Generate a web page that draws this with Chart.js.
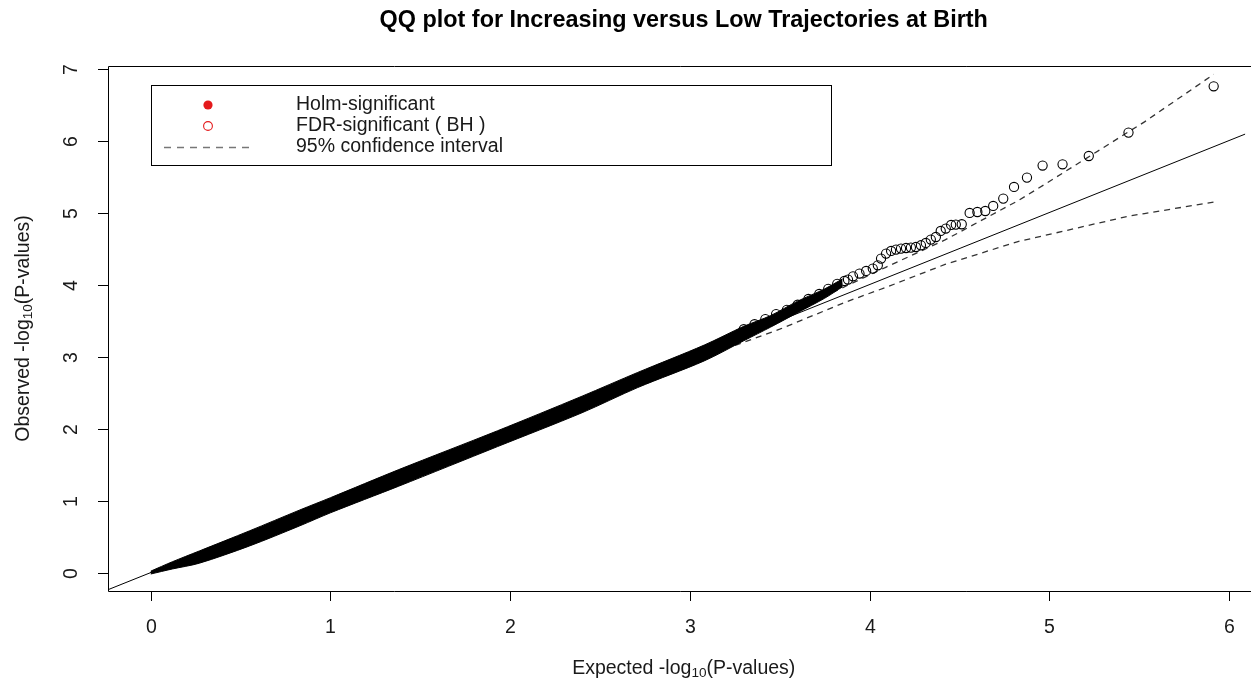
<!DOCTYPE html>
<html>
<head>
<meta charset="utf-8">
<script src="https://cdn.jsdelivr.net/npm/chart.js@4/dist/chart.umd.min.js"></script>
<style>
html,body{margin:0;padding:0;background:#fff;}
#wrap{width:1251px;height:686px;position:relative;}
</style>
</head>
<body>
<div id="wrap"><canvas id="c" width="1251" height="686"></canvas></div>
<script>
// ---- data ----
const titleText = "QQ plot for Increasing versus Low Trajectories at Birth";
const xTicks = [0, 1, 2, 3, 4, 5, 6];
const yTicks = [0, 1, 2, 3, 4, 5, 6, 7];

// dense part of the point cloud (upper / lower edge of the black band)
const bandExpected = [0, 0.12, 0.27, 0.55, 0.83, 1.0, 1.38, 1.93, 2.4, 2.71, 3.08, 3.3, 3.45, 3.6, 3.75, 3.85];
const bandUpper    = [0.02, 0.15, 0.30, 0.58, 0.87, 1.04, 1.43, 1.97, 2.45, 2.78, 3.16, 3.42, 3.57, 3.77, 3.94, 4.08];
const bandLower    = [-0.02, 0.05, 0.13, 0.37, 0.65, 0.83, 1.20, 1.75, 2.22, 2.57, 2.94, 3.22, 3.41, 3.61, 3.81, 3.97];

// individually visible points (upper tail)
const tailExpected = [3.30, 3.36, 3.42, 3.48, 3.54, 3.60, 3.66, 3.72, 3.77, 3.82, 3.86,
  3.88, 3.908, 3.944, 3.981, 4.018, 4.046, 4.064, 4.092, 4.12, 4.147, 4.175, 4.203, 4.23,
  4.258, 4.286, 4.313, 4.341, 4.369, 4.396, 4.424, 4.454, 4.48, 4.513, 4.557, 4.60, 4.644,
  4.688, 4.744, 4.804, 4.876, 4.963, 5.074, 5.22, 5.441, 5.915];
const tailObserved = [3.38, 3.45, 3.52, 3.59, 3.65, 3.72, 3.80, 3.87, 3.94, 4.01, 4.05,
  4.07, 4.115, 4.153, 4.189, 4.222, 4.268, 4.361, 4.43, 4.467, 4.486, 4.50, 4.508, 4.514,
  4.522, 4.546, 4.578, 4.625, 4.661, 4.745, 4.778, 4.828, 4.833, 4.838, 4.995, 5.008, 5.022,
  5.092, 5.194, 5.356, 5.486, 5.653, 5.671, 5.786, 6.111, 6.754];

// 95% confidence interval
const ciExpected = [0, 1, 2, 2.5, 3, 3.5, 3.87, 4.09, 4.42, 4.83, 4.98, 5.44, 5.53, 5.915];
const ciUpper    = [0, 1.005, 2.01, 2.51, 3.03, 3.55, 3.98, 4.24, 4.62, 5.17, 5.40, 6.12, 6.26, 6.92];
const ciLower    = [0, 0.99, 1.98, 2.46, 2.93, 3.38, 3.76, 3.96, 4.28, 4.60, 4.685, 4.95, 4.986, 5.147];

// significant points (none in this plot)
const holmExpected = [], holmObserved = [];
const fdrExpected = [], fdrObserved = [];

const legendLabels = ["Holm-significant", "FDR-significant ( BH )", "95% confidence interval"];

// axis limits
const xMin = -0.238, xMax = 6.091;
const yMin = -0.256, yMax = 7.036;

// ---- build ----
const pts = (xs, ys) => xs.map((x, i) => ({x: x, y: ys[i]}));
const FONT = "'Liberation Sans', Arial, Helvetica, sans-serif";
const TXT = "#1a1a1a";

const datasets = [
  {label: "bandLower", data: pts(bandExpected, bandLower), showLine: true, pointRadius: 0,
   borderColor: "#000", borderWidth: 1, fill: false, order: 2, tension: 0.3},
  {label: "bandUpper", data: pts(bandExpected, bandUpper), showLine: true, pointRadius: 0,
   borderColor: "#000", borderWidth: 1, fill: "-1", backgroundColor: "#000", order: 2, tension: 0.3},
  {label: "observed", data: pts(tailExpected, tailObserved), showLine: false, pointRadius: 4.6,
   pointStyle: "circle", borderColor: "#000", backgroundColor: "rgba(0,0,0,0)", borderWidth: 1.1, order: 1},
  {label: "expected", data: [{x: xMin, y: xMin}, {x: xMax, y: xMax}], showLine: true, pointRadius: 0,
   borderColor: "#000", borderWidth: 1, order: 0},
  {label: "ciUpper", data: pts(ciExpected, ciUpper), showLine: true, pointRadius: 0,
   borderColor: "#333", borderWidth: 1.3, borderDash: [6, 5], order: 3},
  {label: "ciLower", data: pts(ciExpected, ciLower), showLine: true, pointRadius: 0,
   borderColor: "#333", borderWidth: 1.3, borderDash: [6, 5], order: 3},
  {label: legendLabels[0], data: pts(holmExpected, holmObserved), showLine: false, pointRadius: 4.6,
   borderColor: "#e41a1c", backgroundColor: "#e41a1c", order: 0},
  {label: legendLabels[1], data: pts(fdrExpected, fdrObserved), showLine: false, pointRadius: 4.6,
   borderColor: "#e41a1c", backgroundColor: "rgba(0,0,0,0)", order: 0}
];

function drawParts(ctx, parts, cx, cy) {
  let total = 0;
  parts.forEach(p => { ctx.font = p.size + "px " + FONT; p.w = ctx.measureText(p.t).width; total += p.w; });
  let x = cx - total / 2;
  ctx.textAlign = "left";
  ctx.textBaseline = "alphabetic";
  parts.forEach(p => { ctx.font = p.size + "px " + FONT; ctx.fillText(p.t, x, cy + p.dy); x += p.w; });
}

const rStyle = {
  id: "rStyle",
  afterDraw(chart) {
    const ctx = chart.ctx, a = chart.chartArea;
    const xs = chart.scales.x, ys = chart.scales.y;
    const base = 19.5;
    ctx.save();
    // box
    ctx.strokeStyle = "#000"; ctx.lineWidth = 1;
    ctx.beginPath();
    ctx.moveTo(a.right + 30, Math.round(a.top) + 0.5);
    ctx.lineTo(Math.round(a.left) + 0.5, Math.round(a.top) + 0.5);
    ctx.lineTo(Math.round(a.left) + 0.5, Math.round(a.bottom) + 0.5);
    ctx.lineTo(a.right + 30, Math.round(a.bottom) + 0.5);
    ctx.stroke();
    // x ticks
    ctx.fillStyle = TXT;
    ctx.font = base + "px " + FONT;
    ctx.textAlign = "center"; ctx.textBaseline = "middle";
    xTicks.forEach(v => {
      const px = Math.round(xs.getPixelForValue(v)) + 0.5;
      ctx.beginPath(); ctx.moveTo(px, a.bottom); ctx.lineTo(px, a.bottom + 10); ctx.stroke();
      ctx.fillText(String(v), px, 628);
    });
    // y ticks
    yTicks.forEach(v => {
      const py = Math.round(ys.getPixelForValue(v)) + 0.5;
      ctx.beginPath(); ctx.moveTo(a.left, py); ctx.lineTo(a.left - 10, py); ctx.stroke();
      ctx.save(); ctx.translate(72, py); ctx.rotate(-Math.PI / 2);
      ctx.textAlign = "center"; ctx.textBaseline = "middle";
      ctx.fillText(String(v), 0, 0);
      ctx.restore();
    });
    // title
    const cxPlot = (xs.getPixelForValue(xMin) + xs.getPixelForValue(6.17)) / 2;
    ctx.font = "bold 23.4px " + FONT;
    ctx.textAlign = "center"; ctx.textBaseline = "middle";
    ctx.fillStyle = "#000";
    ctx.fillText(titleText, cxPlot, 21);
    // axis titles
    ctx.fillStyle = TXT;
    const lab = w => [{t: w + " -log", size: base, dy: 0}, {t: "10", size: 13.6, dy: 3}, {t: "(P-values)", size: base, dy: 0}];
    drawParts(ctx, lab("Expected"), cxPlot, 674);
    ctx.save(); ctx.translate(29, (a.top + a.bottom) / 2); ctx.rotate(-Math.PI / 2);
    drawParts(ctx, lab("Observed"), 0, 0);
    ctx.restore();
    // legend
    ctx.strokeStyle = "#000"; ctx.lineWidth = 1;
    ctx.strokeRect(151.5, 85.5, 680, 80);
    const rows = [105, 126, 147];
    const ds = chart.data.datasets;
    ctx.fillStyle = ds[6].backgroundColor;
    ctx.beginPath(); ctx.arc(208, rows[0], 4.6, 0, Math.PI * 2); ctx.fill();
    ctx.strokeStyle = ds[7].borderColor; ctx.lineWidth = 1.1;
    ctx.beginPath(); ctx.arc(208, rows[1], 4.4, 0, Math.PI * 2); ctx.stroke();
    ctx.strokeStyle = "#777"; ctx.lineWidth = 1.3; ctx.setLineDash([7, 6]);
    ctx.beginPath(); ctx.moveTo(164, rows[2] + 0.5); ctx.lineTo(252, rows[2] + 0.5); ctx.stroke();
    ctx.setLineDash([]);
    ctx.fillStyle = TXT; ctx.font = base + "px " + FONT;
    ctx.textAlign = "left"; ctx.textBaseline = "middle";
    legendLabels.forEach((t, i) => ctx.fillText(t, 296, rows[i]));
    ctx.restore();
  }
};

new Chart(document.getElementById("c"), {
  type: "scatter",
  data: {datasets: datasets},
  options: {
    responsive: false,
    animation: false,
    events: [],
    layout: {padding: {left: 108, top: 66, right: 0, bottom: 95}},
    plugins: {legend: {display: false}, tooltip: {enabled: false}, title: {display: false}},
    scales: {
      x: {type: "linear", min: xMin, max: xMax, display: false},
      y: {type: "linear", min: yMin, max: yMax, display: false}
    }
  },
  plugins: [rStyle]
});
</script>
</body>
</html>
